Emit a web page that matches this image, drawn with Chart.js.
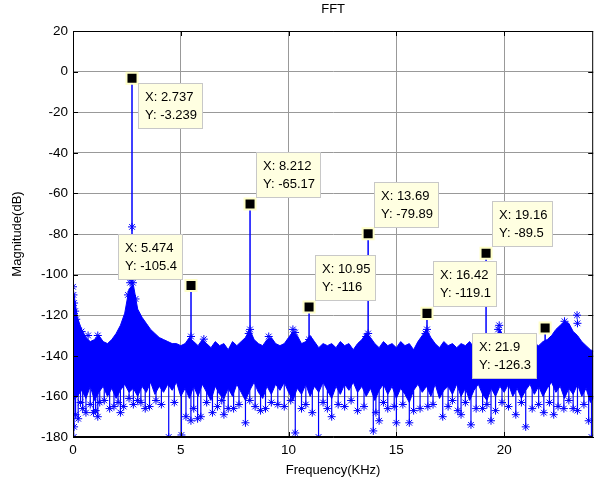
<!DOCTYPE html>
<html>
<head>
<meta charset="utf-8">
<script src="https://cdn.jsdelivr.net/npm/chart.js@4/dist/chart.umd.min.js"></script>
<style>
	body { margin: 0; background: #fff; }
	canvas { display: block; }
</style>
</head>
<body>
<canvas id="fft_chart" width="603" height="484"></canvas>
<script>
// harmonic peaks (datatips)
const harmFreq = [2.737, 5.474, 8.212, 10.95, 13.69, 16.42, 19.16, 21.9];
const harmMag = [-3.239, -105.4, -65.17, -116, -79.89, -119.1, -89.5, -126.3];
const tipDir = ['se', 'nw', 'ne', 'ne', 'ne', 'ne', 'ne', 'sw'];

// noise floor, one value every 0.2 KHz (upper and lower edge of the band)
const floorStep = 0.2;
const floorTop = [
	-106, -121, -127, -131, -133, -132, -130, -133, -134, -132,
	-129, -125, -119, -107, -105, -117, -121, -124, -127, -129,
	-131, -132, -133, -134, -134, -135, -134, -131, -133, -135,
	-132, -134, -136, -133, -135, -134, -137, -133, -135, -133,
	-131, -127, -132, -134, -135, -132, -131, -134, -135, -134,
	-131, -128, -130, -134, -133, -130, -133, -136, -134, -135,
	-134, -136, -133, -135, -134, -137, -134, -132, -129, -131,
	-134, -136, -133, -135, -134, -136, -133, -135, -134, -137,
	-133, -130, -127, -131, -134, -136, -133, -135, -134, -136,
	-134, -135, -133, -136, -134, -133, -132, -134, -131, -127,
	-131, -134, -136, -133, -135, -134, -137, -134, -135, -133,
	-132, -130, -127, -125, -123, -124, -128, -130, -133, -135,
	-137, -138
];
const floorBot = [
	-162, -160, -157, -161, -155, -162, -158, -155, -160, -156,
	-161, -157, -154, -158, -156, -160, -155, -158, -153, -159,
	-155, -158, -154, -157, -153, -160, -156, -161, -155, -160,
	-154, -158, -162, -155, -159, -161, -156, -160, -154, -158,
	-162, -157, -153, -158, -161, -155, -159, -154, -157, -153,
	-158, -162, -156, -159, -154, -160, -155, -158, -153, -157,
	-161, -155, -159, -154, -157, -153, -158, -155, -160, -156,
	-162, -157, -154, -159, -155, -161, -156, -159, -163, -157,
	-154, -158, -155, -160, -154, -161, -157, -155, -159, -154,
	-160, -156, -162, -157, -154, -159, -162, -156, -160, -155,
	-158, -154, -160, -156, -161, -157, -154, -159, -155, -160,
	-156, -153, -158, -155, -161, -156, -159, -154, -160, -156,
	-163, -160
];

// deep bins below the floor
const dipFreq = [0.03, 0.05, 0.24, 0.45, 0.95, 1.05, 1.24, 1.7, 2.09, 2.35,
	3.0, 3.35, 3.85, 4.44, 5.03, 5.24, 5.47, 5.78, 5.93, 6.47,
	7.0, 7.45, 8.0, 8.45, 8.93, 9.5, 10.31, 10.6, 11.1, 11.39,
	12.0, 12.6, 13.2, 13.93, 14.2, 14.6, 15.0, 15.6, 16.1, 16.46,
	17.15, 17.85, 18.0, 18.46, 19.0, 19.39, 20.54, 21.0, 21.84, 22.3,
	22.77, 23.4, 23.92, 24.05,
	0.12, 0.35, 0.6, 0.8, 1.15, 1.45, 1.9, 2.2, 2.6, 2.8,
	3.15, 3.55, 4.1, 4.7, 5.6, 6.2, 6.7, 6.9, 7.2, 7.7,
	8.2, 8.7, 9.2, 9.8, 10.1, 10.8, 11.6, 11.8, 12.3, 12.9,
	13.5, 14.05, 14.4, 14.9, 15.3, 15.8, 16.7, 17.4, 17.6, 18.2,
	18.7, 19.2, 19.6, 19.9, 20.2, 20.8, 21.3, 21.6, 22.1, 22.5,
	23.0, 23.2, 23.7];
const dipMag = [-180, -175, -171, -166, -168, -167, -163, -166, -163, -165,
	-162, -166, -162, -180, -179, -170, -172, -171, -170, -168,
	-169, -166, -173, -165, -166, -164, -178, -166, -168, -180,
	-170, -165, -167, -177, -172, -166, -173, -173, -166, -165,
	-170, -167, -169, -174, -166, -172, -169, -175, -168, -169,
	-166, -167, -172, -180,
	-169, -163, -168, -164, -170, -162, -165, -168, -161, -164,
	-163, -165, -164, -163, -166, -163, -165, -162, -166, -164,
	-162, -167, -163, -165, -162, -164, -163, -166, -164, -162,
	-165, -168, -163, -165, -164, -167, -164, -165, -162, -163,
	-166, -164, -167, -163, -165, -163, -166, -164, -163, -165,
	-162, -166, -164];

// bins sticking out above the floor
const bumpFreq = [0.0, 0.02, 0.05, 0.1, 0.15, 0.4, 0.7, 1.15, 2.55, 2.65,
	2.7, 2.737, 2.78, 2.9, 5.474, 6.07, 8.15, 8.212, 9.08, 10.2,
	10.3, 10.95, 13.6, 13.69, 16.35, 16.42, 19.72, 19.77, 22.8, 23.38, 23.4];
const bumpMag = [-106, -110, -114, -118, -122, -128, -130, -130, -110, -104,
	-102, -76.5, -104, -112, -130.5, -131.8, -129, -127, -130.5, -127,
	-128.5, -132, -130.5, -129, -129, -127, -127, -125, -123, -120, -124];

const blue = '#0000ff';
const spikeBase = -140;
const dipBase = -152;

function floorPoints(values) {
	return values.map((v, i) => ({ x: i * floorStep, y: v }));
}

function stemPoints(freqs, mags, base) {
	const pts = [];
	for (let i = 0; i < freqs.length; i++) {
		pts.push({ x: freqs[i], y: base });
		pts.push({ x: freqs[i], y: mags[i], tip: true });
		pts.push({ x: freqs[i], y: null });
	}
	return pts;
}

const datatips = {
	id: 'datatips',
	afterDatasetsDraw(chart) {
		const { ctx, scales: { x, y } } = chart;
		ctx.save();
		ctx.font = '13px Arial, "Liberation Sans", sans-serif';
		ctx.textBaseline = 'middle';
		for (let i = 0; i < harmFreq.length; i++) {
			const px = x.getPixelForValue(harmFreq[i]);
			const py = y.getPixelForValue(harmMag[i]);
			const l1 = 'X: ' + harmFreq[i];
			const l2 = 'Y: ' + harmMag[i];
			const w = Math.round(Math.max(ctx.measureText(l1).width, ctx.measureText(l2).width) + 13);
			const h = 46;
			const d = tipDir[i];
			const bx = Math.round(d[1] == 'e' ? px + 6 : px - 8 - w);
			const by = Math.round(d[0] == 's' ? py + 5 : py - 6 - h);
			ctx.fillStyle = 'rgb(255,255,225)';
			ctx.fillRect(bx, by, w, h);
			ctx.strokeStyle = '#c8c8c8';
			ctx.lineWidth = 1;
			ctx.strokeRect(bx + 0.5, by + 0.5, w - 1, h - 1);
			ctx.fillStyle = '#000';
			ctx.fillText(l1, bx + 7, by + 14);
			ctx.fillText(l2, bx + 7, by + 32);
		}
		ctx.restore();
	}
};

const axesBox = {
	id: 'axesBox',
	afterDraw(chart) {
		const { ctx, chartArea: a, scales: { x, y } } = chart;
		ctx.save();
		ctx.strokeStyle = '#000';
		ctx.lineWidth = 1;
		ctx.beginPath();
		ctx.rect(a.left + 0.5, a.top + 0.5, a.right - a.left - 1, a.bottom - a.top - 1);
		x.ticks.forEach(t => {
			const px = Math.round(x.getPixelForValue(t.value)) + 0.5;
			ctx.moveTo(px, a.bottom); ctx.lineTo(px, a.bottom - 5);
			ctx.moveTo(px, a.top); ctx.lineTo(px, a.top + 5);
		});
		y.ticks.forEach(t => {
			const py = Math.round(y.getPixelForValue(t.value)) + 0.5;
			ctx.moveTo(a.left, py); ctx.lineTo(a.left + 5, py);
			ctx.moveTo(a.right, py); ctx.lineTo(a.right - 5, py);
		});
		ctx.stroke();
		ctx.restore();
	}
};

Chart.defaults.font.family = 'Arial, "Liberation Sans", sans-serif';
Chart.defaults.color = '#000';

new Chart(document.getElementById('fft_chart'), {
	type: 'line',
	data: {
		datasets: [
			{
				data: harmFreq.map((f, i) => ({ x: f, y: harmMag[i] })),
				showLine: false,
				pointStyle: 'rect',
				pointRadius: 7.8,
				pointBackgroundColor: '#000',
				pointBorderColor: 'rgb(255,255,200)',
				pointBorderWidth: 2,
				order: 0,
			},
			{
				data: stemPoints(harmFreq, harmMag, spikeBase),
				borderColor: blue,
				borderWidth: 1.5,
				pointRadius: 0,
				spanGaps: false,
				order: 1,
			},
			{
				data: bumpFreq.map((f, i) => ({ x: f, y: bumpMag[i] })),
				showLine: false,
				pointStyle: 'star',
				pointRadius: 4,
				pointBorderColor: blue,
				pointBorderWidth: 1,
				order: 2,
			},
			{
				data: stemPoints(dipFreq, dipMag, dipBase),
				borderColor: blue,
				borderWidth: 1.2,
				pointStyle: 'star',
				pointRadius: c => (c.raw && c.raw.tip ? 4 : 0),
				pointBorderColor: blue,
				pointBorderWidth: 1,
				spanGaps: false,
				order: 3,
			},
			{
				data: floorPoints(floorTop),
				borderColor: blue,
				borderWidth: 1,
				pointRadius: 0,
				fill: false,
				order: 4,
			},
			{
				data: floorPoints(floorBot),
				borderColor: blue,
				borderWidth: 1,
				backgroundColor: blue,
				pointRadius: 0,
				fill: '-1',
				order: 5,
			},
		],
	},
	options: {
		responsive: false,
		animation: false,
		layout: { padding: { left: 0, right: 7, top: 0, bottom: 0 } },
		scales: {
			x: {
				type: 'linear',
				min: 0,
				max: 24.13,
				afterFit: s => { s.height = 47; },
				grid: { color: '#999', drawTicks: false },
				border: { color: '#000' },
				ticks: { stepSize: 5, includeBounds: false, autoSkip: false, padding: 5, font: { size: 13.5 } },
				title: { display: true, text: 'Frequency(KHz)', font: { size: 13 }, padding: { top: 0, bottom: 6 } },
			},
			y: {
				min: -180,
				max: 20,
				afterFit: s => { s.width = 73; },
				grid: { color: '#999', drawTicks: false },
				border: { color: '#000' },
				ticks: { stepSize: 20, padding: 5, font: { size: 13.5 } },
				title: { display: true, text: 'Magnitude(dB)', font: { size: 13 }, padding: { top: 10, bottom: 0 } },
			},
		},
		plugins: {
			legend: { display: false },
			tooltip: { enabled: false },
			title: {
				display: true,
				text: 'FFT',
				fullSize: false,
				font: { size: 13, weight: 'normal' },
				padding: { top: 2, bottom: 13.4 },
			},
		},
	},
	plugins: [datatips, axesBox],
});
</script>
</body>
</html>
